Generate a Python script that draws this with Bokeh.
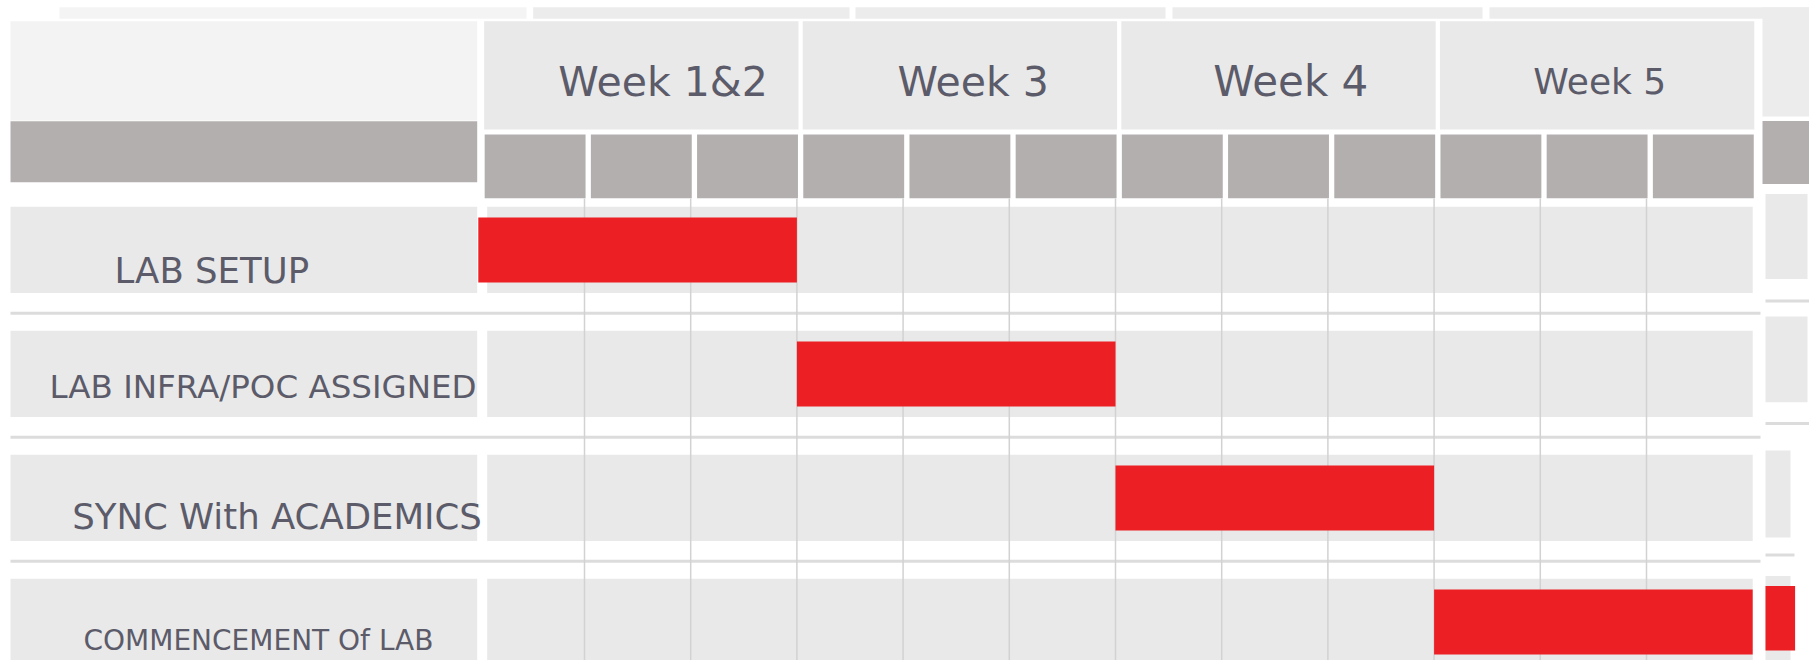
from bokeh.plotting import figure
from bokeh.models import Range1d, ColumnDataSource
from bokeh.core.properties import value
from bokeh.embed import file_html
from bokeh.resources import INLINE

# ---------------- data ----------------
tasks = ["LAB SETUP", "LAB INFRA/POC ASSIGNED", "SYNC With ACADEMICS", "COMMENCEMENT Of LAB"]
task_start = [0, 3, 6, 9]      # start slot (3 slots per week column)
task_end = [3, 6, 9, 12]       # end slot
weeks = ["Week 1&2", "Week 3", "Week 4", "Week 5"]
slots_per_week = 3

# ---------------- layout (page pixels) ----------------
W, H = 1809, 660
MARGIN = 0
COL0_PX, COL_PX = 477.8, 106.2     # x of slot 0, slot width
ROW0_PX, ROW_PX = 249.4, 124.0     # centre of first task row, row pitch


def cx(px):
    return (px - COL0_PX) / COL_PX


def ry(py):
    return (py - ROW0_PX) / ROW_PX


# styles
RED = "#ec1f24"
CELL = "#e9e9e9"
HEAD_LIGHT = "#f3f3f3"
STRIP = "#ececec"
BAND = "#b4afaf"
SEP = "#dcdcdc"
VGRID = "#d2d2d2"
TXT = "#5c5b69"
FONT = "DejaVu Sans"

TEXT_SHIFT = 13 / ROW_PX
label_left_px = [114, 49, 71.7, 83]
label_base_dy = [0.271 - TEXT_SHIFT, 0.209 - TEXT_SHIFT, 0.255 - TEXT_SHIFT, 0.256 - TEXT_SHIFT]
label_size = ["35.5px", "32.5px", "35.5px", "28px"]
week_dx = [0.24, 0.16, 0.15, 0.06]
week_size = ["41px", "41px", "42px", "36px"]
week_base_px = [81, 81, 81, 80.5]

n_slots = len(weeks) * slots_per_week
n_rows = len(tasks)

p = figure(width=W, height=H, output_backend="svg", toolbar_location=None,
           x_range=Range1d(cx(MARGIN), cx(MARGIN + W)),
           y_range=Range1d(ry(MARGIN + H), ry(MARGIN)),
           min_border=0, min_border_left=0, min_border_right=0,
           min_border_top=0, min_border_bottom=0)
p.xaxis.visible = False
p.yaxis.visible = False
p.grid.visible = False
p.outline_line_color = None
p.background_fill_color = "white"
p.border_fill_color = "white"

# --- faint strips at the very top (table behind) ---
p.quad(left=[cx(59)], right=[cx(526)], top=[ry(6.7)], bottom=[ry(18.3)],
       fill_color="#f4f4f4", line_color=None)
p.quad(left=[cx(532.7), cx(855), cx(1172), cx(1489)],
       right=[cx(849), cx(1165), cx(1482), cx(1810)],
       top=[ry(6.7)] * 4, bottom=[ry(18.3)] * 4,
       fill_color=STRIP, line_color=None)

# --- right fragment of the table behind ---
p.quad(left=[cx(1762)], right=[cx(1810)], top=[ry(6.7)], bottom=[ry(116)],
       fill_color=STRIP, line_color=None)
p.quad(left=[cx(1762)], right=[cx(1810)], top=[ry(120.5)], bottom=[ry(183.5)],
       fill_color=BAND, line_color=None)
p.quad(left=[cx(1765)] * 4, right=[cx(1807), cx(1807), cx(1790), cx(1790)],
       top=[ry(193.5), ry(316), ry(450), ry(575.5)],
       bottom=[ry(278.5), ry(401.7), ry(537), ry(660)],
       fill_color=CELL, line_color=None)
p.segment(x0=[cx(1765)] * 3, x1=[cx(1810), cx(1810), cx(1794)],
          y0=[ry(300.6), ry(423), ry(554.5)], y1=[ry(300.6), ry(423), ry(554.5)],
          line_color=SEP, line_width=3)
p.quad(left=[cx(1765)], right=[cx(1794.6)], top=[ry(585.5)], bottom=[ry(650)],
       fill_color=RED, line_color=None)

# --- left header block ---
p.quad(left=[cx(10)], right=[cx(476.7)], top=[ry(20.7)], bottom=[ry(120)],
       fill_color=HEAD_LIGHT, line_color=None)
p.quad(left=[cx(10)], right=[cx(476.7)], top=[ry(120.7)], bottom=[ry(181.7)],
       fill_color=BAND, line_color=None)

# --- week header cells ---
wk_left = [k * slots_per_week + 0.055 for k in range(len(weeks))]
wk_right = [(k + 1) * slots_per_week + 0.015 for k in range(len(weeks))]
p.quad(left=wk_left, right=wk_right, top=[ry(20.7)] * len(weeks), bottom=[ry(129)] * len(weeks),
       fill_color=CELL, line_color=None)

# --- sub-slot header cells ---
p.quad(left=[j + 0.06 for j in range(n_slots)], right=[j + 1.01 for j in range(n_slots)],
       top=[ry(134)] * n_slots, bottom=[ry(197.7)] * n_slots,
       fill_color=BAND, line_color=None)

# --- task row cells ---
half = 0.3475
p.quad(left=[cx(10)] * n_rows, right=[cx(476.7)] * n_rows,
       top=[i - half for i in range(n_rows)], bottom=[i + half for i in range(n_rows)],
       fill_color=CELL, line_color=None)
p.quad(left=[cx(486.7)] * n_rows, right=[n_slots] * n_rows,
       top=[i - half for i in range(n_rows)], bottom=[i + half for i in range(n_rows)],
       fill_color=CELL, line_color=None)

# --- row separators ---
p.segment(x0=[cx(10)] * (n_rows - 1), x1=[cx(1760)] * (n_rows - 1),
          y0=[i + 0.51 for i in range(n_rows - 1)], y1=[i + 0.51 for i in range(n_rows - 1)],
          line_color=SEP, line_width=3)

# --- vertical slot grid ---
p.segment(x0=list(range(1, n_slots)), x1=list(range(1, n_slots)),
          y0=[ry(198)] * (n_slots - 1), y1=[ry(670)] * (n_slots - 1),
          line_color=VGRID, line_width=1.5)

# --- task bars ---
bars = ColumnDataSource(dict(
    left=task_start, right=task_end,
    top=[i - 0.262 for i in range(n_rows)],
    bottom=[i + 0.262 for i in range(n_rows)]))
p.quad(left="left", right="right", top="top", bottom="bottom", source=bars,
       fill_color=RED, line_color=None)

# --- task labels ---
lab = ColumnDataSource(dict(
    x=[cx(v) for v in label_left_px],
    y=[i + label_base_dy[i] for i in range(n_rows)],
    text=tasks, size=label_size))
p.text(x="x", y="y", text="text", source=lab, text_font=value(FONT),
       text_font_size="size", text_color=TXT, text_align="left",
       text_baseline="alphabetic")

# --- week labels ---
wk = ColumnDataSource(dict(
    x=[k * slots_per_week + slots_per_week / 2 + week_dx[k] for k in range(len(weeks))],
    y=[ry(v) for v in week_base_px],
    text=weeks, size=week_size))
p.text(x="x", y="y", text="text", source=wk, text_font=value(FONT),
       text_font_size="size", text_color=TXT, text_align="center",
       text_baseline="alphabetic")

open("out.html", "w").write(file_html(p, INLINE))
